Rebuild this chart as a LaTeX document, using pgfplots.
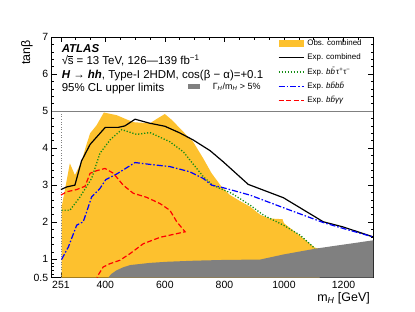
\documentclass[border=0pt]{standalone}
\usepackage{fontspec}
\setmainfont{Liberation Sans}
\usepackage{pgfplots}
\pgfplotsset{compat=1.18}
\definecolor{obsyel}{RGB}{253,193,46}
\definecolor{gry}{RGB}{128,128,128}
\definecolor{grn}{RGB}{20,140,20}
\begin{document}
\begin{tikzpicture}
\path[use as bounding box] (-51.7bp,-34.3bp) rectangle (363.3bp,277.7bp);
\begin{axis}[
  scale only axis, width=321.6bp, height=240.7bp,
  xmin=220, xmax=1300, ymin=0.5, ymax=7,
  xtick={251,400,600,800,1000,1200},
  minor xtick={300,350,450,500,550,650,700,750,850,900,950,1050,1100,1150,1250},
  ytick={0.5,1,2,3,4,5,6,7},
  minor ytick={0.6,0.7,0.8,0.9,1.2,1.4,1.6,1.8,2.2,2.4,2.6,2.8,3.2,3.4,3.6,3.8,4.2,4.4,4.6,4.8,5.2,5.4,5.6,5.8,6.2,6.4,6.6,6.8},
  tick pos=both, tick align=inside,
  major tick length=5bp, minor tick length=2.5bp,
  tick style={black, line width=0.5bp},
  axis line style={line width=0.6bp},
  ticklabel style={font=\fontsize{10.5}{12}\selectfont},
  /pgf/number format/assume math mode=true,
  /pgf/number format/1000 sep={},
  xlabel={m\textsubscript{\textit{H}} [GeV]},
  ylabel={tanβ},
  label style={font=\fontsize{12.5}{14}\selectfont},
  xlabel style={at={(axis description cs:1,-0.084)},anchor=east},
  ylabel style={at={(axis description cs:-0.077,1)},anchor=east},
  legend image code/.code={\draw[#1] (0bp,0bp) -- (25bp,0bp);},
  legend cell align=left,
  legend style={at={(axis description cs:0.983,0.998)}, anchor=north east,
    draw=none, fill=none, font=\fontsize{8}{9}\selectfont,
    row sep=6.2bp, column sep=0bp,
    nodes={inner sep=0pt, text height=6bp, text depth=2bp, inner xsep=3bp}},
]
\addplot[fill=obsyel, draw=none,
  legend image code/.code={\fill[obsyel] (0bp,-3.2bp) rectangle (25bp,3.2bp);}]
  coordinates {(253,0.5) (253,2.4) (265,2.9) (281,3.59) (298,3.27) (320,3.63) (335,4.05) (349,4.4) (371,4.62) (395,4.96) (438,4.89) (470,4.78) (494,4.70) (550,4.67) (575,4.8) (600,4.92) (625,4.75) (651,4.53) (695,4.17) (729,3.72) (757,3.32) (791,2.95) (819,2.73) (850,2.58) (886,2.42) (920,2.2) (950,2.1) (995,2.08) (1000,1.97) (1054,1.63) (1104,1.31) (1120,1.28) (1120,0.5)} -- cycle;
\addlegendentry{Obs. combined}
\addplot[fill=gry, draw=none, forget plot]
  coordinates {(410,0.5) (420,0.6) (438,0.7) (460,0.78) (483,0.84) (516,0.87) (550,0.9) (606,0.93) (700,0.96) (800,0.98) (920,0.99) (1000,1.13) (1110,1.29) (1300,1.51) (1300,0.5)} -- cycle;
\addplot[gry, line width=0.6bp, forget plot] coordinates {(220,5) (1300,5)};
\addplot[gry, line width=0.6bp, dotted, forget plot] coordinates {(251,0.5) (251,5)};
\addplot[black, line width=1.2bp]
  coordinates {(251,2.88) (270,2.95) (298,3.0) (320,3.65) (349,4.1) (400,4.56) (444,4.56) (466,4.6) (500,4.78) (550,4.67) (600,4.59) (650,4.41) (695,4.22) (752,3.93) (796,3.63) (880,3.02) (998,2.66) (1132,2.01) (1199,1.87) (1300,1.60)};
\addlegendentry{Exp. combined}
\addplot[grn, line width=1.3bp, dash pattern=on 1.2bp off 1.8bp]
  coordinates {(253,2.32) (281,2.32) (315,2.68) (354,3.18) (382,3.86) (416,4.22) (455,4.5) (505,4.37) (550,4.42) (617,4.17) (662,3.9) (707,3.45) (729,3.23) (760,3.0) (824,2.78) (886,2.46) (931,2.19) (998,1.92) (1054,1.65) (1104,1.29)};
\addlegendentry{Exp. \textit{b\={b}}τ\textsuperscript{+}τ\textsuperscript{−}}
\addplot[blue, line width=1.2bp, dash pattern=on 6bp off 2bp on 1.5bp off 2bp]
  coordinates {(253,0.99) (276,1.33) (304,1.92) (326,2.01) (354,2.68) (382,2.91) (402,3.15) (438,3.3) (500,3.61) (550,3.56) (617,3.5) (684,3.36) (729,3.18) (757,3.0) (796,2.93) (886,2.73) (998,2.39) (1132,1.99) (1199,1.83) (1300,1.6)};
\addlegendentry{Exp. \textit{b\={b}b\={b}}}
\addplot[red, line width=1.2bp, dash pattern=on 5bp off 2.5bp]
  coordinates {(251,2.73) (270,2.82) (304,2.88) (332,2.97) (349,3.32) (371,3.39) (399,3.45) (427,3.32) (460,3.0) (494,2.78) (539,2.67) (584,2.5) (617,2.32) (640,2.01) (668,1.74) (640,1.69) (584,1.59) (528,1.42) (483,1.15) (449,0.97) (416,0.88) (393,0.79) (376,0.57) (372,0.5)};
\addlegendentry{Exp. \textit{b\={b}γγ}}
\node[anchor=base west, font=\fontsize{11.5}{13}\selectfont] at (axis description cs:0.0205,0.935) {\textbf{\textit{ATLAS}}};
\node[anchor=base west, font=\fontsize{11.5}{13}\selectfont] at (axis description cs:0.0205,0.884) {√\kern-0.03em\rlap{\rule[0.76em]{0.5em}{0.06em}}s = 13 TeV, 126—139 fb\textsuperscript{−1}};
\node[anchor=base west, font=\fontsize{11.5}{13}\selectfont] at (axis description cs:0.0205,0.828) {\textbf{\textit{H → hh}}, Type-I 2HDM, cos(β − α)=+0.1};
\node[anchor=base west, font=\fontsize{11.5}{13}\selectfont] at (axis description cs:0.0205,0.773) {95\% CL upper limits};
\fill[gry] (axis description cs:0.424,0.784) rectangle (axis description cs:0.461,0.806);
\node[anchor=base west, font=\fontsize{9}{10}\selectfont] at (axis description cs:0.49,0.78) {Γ\textsubscript{\textit{H}}/m\textsubscript{\textit{H}} > 5\%};
\end{axis}
\end{tikzpicture}
\end{document}
